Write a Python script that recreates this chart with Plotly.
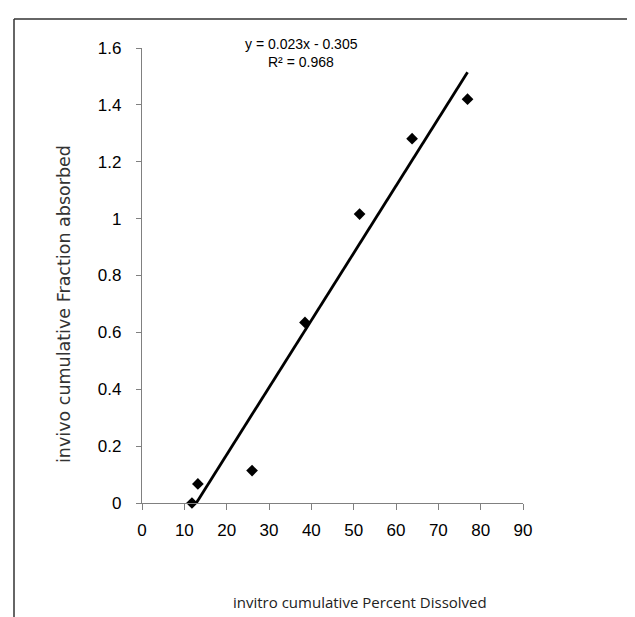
import numpy as np
import plotly.graph_objects as go

# Data
x_dissolved = [11.8, 13.2, 26.0, 38.5, 51.4, 63.8, 76.9]
y_absorbed = [0.0, 0.067, 0.114, 0.635, 1.016, 1.281, 1.42]
x_ticks = [0, 10, 20, 30, 40, 50, 60, 70, 80, 90]
y_ticks = [0, 0.2, 0.4, 0.6, 0.8, 1.0, 1.2, 1.4, 1.6]
y_tick_text = ["0", "0.2", "0.4", "0.6", "0.8", "1", "1.2", "1.4", "1.6"]
eq_text = "y = 0.023x - 0.305"
r2_text = "R² = 0.968"

# linear trendline
slope, intercept = np.polyfit(x_dissolved, y_absorbed, 1)
xl = np.array([min(x_dissolved), max(x_dissolved)])
yl = slope * xl + intercept

W, H = 635, 617
L, R = 134, 515   # plot area pixel bounds
T, B = 40, 495

def px(xp):
    return (xp - L) / (R - L)

def py(yp):
    return (B - yp) / (B - T)

narrow = "Liberation Sans Narrow, Arial Narrow, Liberation Sans, Arial"
tickfont = dict(family=narrow, size=17, color="black")

fig = go.Figure()
fig.add_trace(go.Scatter(x=xl, y=yl, mode="lines", line=dict(color="black", width=2.8),
                         showlegend=False, hoverinfo="skip"))
fig.add_trace(go.Scatter(x=x_dissolved, y=y_absorbed, mode="markers",
                         marker=dict(symbol="diamond", size=9, color="black"),
                         showlegend=False, cliponaxis=False))

fig.update_layout(
    width=W, height=H,
    margin=dict(l=L, r=W - R, t=T, b=H - B, pad=0),
    paper_bgcolor="white", plot_bgcolor="white",
    xaxis=dict(range=[0, 90], tickvals=x_ticks, showgrid=False, zeroline=False,
               showline=True, linecolor="#808080", linewidth=1.2,
               ticks="outside", ticklen=6, tickcolor="#808080", tickwidth=1,
               tickfont=tickfont, ticklabelstandoff=5),
    yaxis=dict(range=[0, 1.6], tickvals=y_ticks, ticktext=y_tick_text, showgrid=False,
               zeroline=False, showline=True, linecolor="#808080", linewidth=1.2,
               ticks="outside", ticklen=5, tickcolor="#808080", tickwidth=1,
               tickfont=tickfont, ticklabelstandoff=11),
    shapes=[
        dict(type="line", xref="paper", yref="paper", x0=px(6), x1=px(635), y0=py(11), y1=py(11),
             line=dict(color="#333", width=1.5)),
        dict(type="line", xref="paper", yref="paper", x0=px(6), x1=px(6), y0=py(11), y1=py(617),
             line=dict(color="#333", width=1.5)),
    ],
    annotations=[
        dict(text=eq_text, xref="paper", yref="paper", x=px(293), y=py(36), showarrow=False,
             xanchor="center", yanchor="middle",
             font=dict(family=narrow, size=14, color="black")),
        dict(text=r2_text, xref="paper", yref="paper", x=px(293), y=py(54), showarrow=False,
             xanchor="center", yanchor="middle",
             font=dict(family=narrow, size=14, color="black")),
        dict(text="invitro cumulative Percent Dissolved", xref="paper", yref="paper",
             x=px(352), y=py(594), showarrow=False, xanchor="center", yanchor="middle",
             font=dict(family="Open Sans, Noto Sans, sans-serif", size=15, color="#222")),
        dict(text="invivo cumulative Fraction absorbed", xref="paper", yref="paper",
             x=px(56), y=py(296), showarrow=False, xanchor="center", yanchor="middle",
             textangle=-90, font=dict(family="DejaVu Sans, sans-serif", size=17.5, color="#333")),
    ],
)

fig.write_html("out.html")
